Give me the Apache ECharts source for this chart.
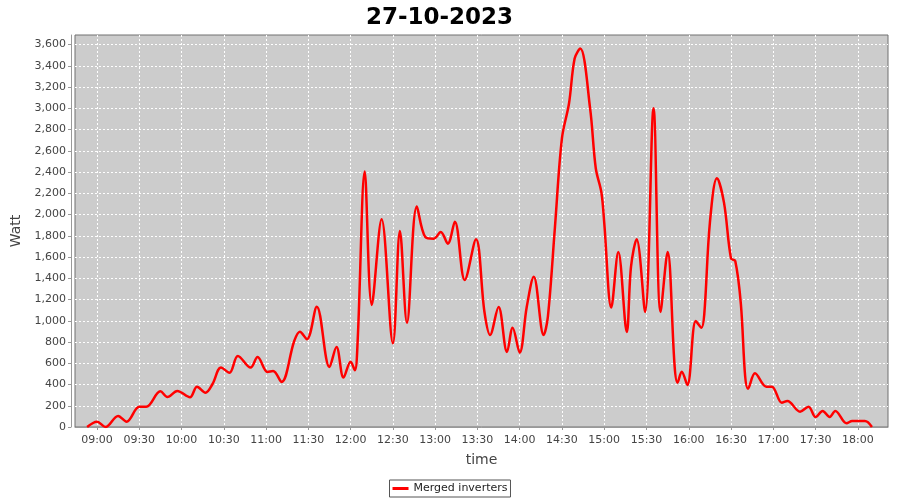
<!DOCTYPE html>
<html>
<head>
<meta charset="utf-8">
<script src="https://cdn.jsdelivr.net/npm/echarts@6/dist/echarts.min.js"></script>
<style>
  html, body { margin: 0; padding: 0; background: #fff; }
  #myChart { width: 900px; height: 500px; }
</style>
</head>
<body>
<div id="myChart"></div>
<script>
// time of each reading (27-10-2023)
const times = ['08:53', '09:00', '09:06', '09:15', '09:21', '09:30', '09:35', '09:45', '09:50', '09:57',
  '10:06', '10:11', '10:17', '10:22', '10:28', '10:34', '10:40', '10:49', '10:54',
  '11:01', '11:05', '11:11', '11:20', '11:24', '11:29', '11:36', '11:45', '11:50', '11:55',
  '12:00', '12:03', '12:05', '12:10', '12:15', '12:22', '12:30', '12:35', '12:40', '12:47', '12:53', '12:59',
  '13:04', '13:09', '13:14', '13:21', '13:29', '13:35', '13:39', '13:45', '13:51', '13:55',
  '14:00', '14:05', '14:10', '14:17', '14:20', '14:25', '14:30', '14:35', '14:39', '14:43', '14:50', '14:54', '14:58',
  '15:00', '15:05', '15:10', '15:16', '15:19', '15:23', '15:29', '15:35', '15:40', '15:45', '15:50', '15:52', '15:55', '15:59',
  '16:05', '16:09', '16:11', '16:15', '16:20', '16:25', '16:30', '16:33', '16:37', '16:40', '16:42', '16:47', '16:55', '16:59',
  '17:06', '17:10', '17:19', '17:25', '17:30', '17:35', '17:40', '17:44', '17:52', '17:56',
  '18:05', '18:10']
// Watt
const watts = [0, 50, 0, 104, 50, 190, 190, 336, 282, 339,
  280, 380, 323, 405, 560, 511, 669, 559, 659,
  518, 527, 424, 810, 897, 826, 1133, 565, 753, 465,
  615, 534, 810, 2404, 1149, 1956, 788, 1846, 982, 2075, 1789, 1773,
  1836, 1726, 1933, 1384, 1767, 1083, 866, 1130, 706, 935,
  700, 1130, 1415, 866, 1036, 1877, 2719, 3045, 3468, 3562, 2997, 2436, 2207,
  1924, 1124, 1648, 895, 1507, 1768, 1083, 3001, 1083, 1648, 565, 417, 521, 396,
  998, 935, 1061, 1924, 2342, 2112, 1585, 1563, 1155, 480, 361, 506, 380, 380,
  229, 245, 144, 191, 94, 151, 94, 151, 35, 56,
  56, 0]

function ts(hhmm, sec) {
  const p = hhmm.split(':')
  return new Date(2023, 9, 27, +p[0], +p[1], sec || 0).getTime()
}
function pad(n) { return (n < 10 ? '0' : '') + n }

const seriesData = times.map((t, i) => [ts(t), watts[i]])

const myChart = echarts.init(document.getElementById('myChart'))
myChart.setOption({
  animation: false,
  backgroundColor: '#ffffff',
  title: {
    text: '27-10-2023',
    left: 361,
    top: 2,
    textStyle: { fontFamily: 'DejaVu Sans', fontSize: 23, fontWeight: 'bold', color: '#000' }
  },
  legend: {
    bottom: 3,
    left: 'center',
    data: ['Merged inverters'],
    icon: 'rect',
    itemWidth: 16,
    itemHeight: 3,
    itemGap: 4,
    padding: [3, 3, 3, 3],
    borderColor: '#555',
    borderWidth: 1,
    borderRadius: 0,
    textStyle: { fontFamily: 'DejaVu Sans', fontSize: 11, color: '#222' }
  },
  grid: {
    left: 75,
    right: 12,
    top: 35,
    bottom: 73,
    show: true,
    backgroundColor: '#cccccc',
    borderColor: '#707070',
    borderWidth: 1
  },
  xAxis: {
    type: 'time',
    min: ts('08:44', 24),
    max: ts('18:21', 24),
    splitNumber: 19,
    offset: 3,
    name: 'time',
    nameLocation: 'middle',
    nameGap: 23,
    nameTextStyle: { fontFamily: 'DejaVu Sans', fontSize: 14, color: '#444' },
    axisLine: { show: true, lineStyle: { color: '#999' } },
    axisTick: { show: true, length: 3, lineStyle: { color: '#999' } },
    axisLabel: {
      fontFamily: 'DejaVu Sans', fontSize: 11, color: '#444', margin: 5,
      showMinLabel: false, showMaxLabel: false,
      formatter: function (v) {
        const d = new Date(v)
        return pad(d.getHours()) + ':' + pad(d.getMinutes())
      }
    },
    splitLine: { show: true, showMinLine: false, showMaxLine: false, lineStyle: { color: '#ffffff', type: [2, 2], width: 1 } }
  },
  yAxis: {
    type: 'value',
    min: 0,
    max: 3690,
    interval: 200,
    offset: 4,
    name: 'Watt',
    nameLocation: 'middle',
    nameGap: 43,
    nameTextStyle: { fontFamily: 'DejaVu Sans', fontSize: 14, color: '#444' },
    axisLine: { show: true, lineStyle: { color: '#999' } },
    axisTick: { show: true, length: 3, lineStyle: { color: '#999' } },
    axisLabel: {
      fontFamily: 'DejaVu Sans', fontSize: 11, color: '#444', margin: 5,
      showMaxLabel: false,
      formatter: function (v) { return v.toLocaleString('en-US') }
    },
    splitLine: { show: true, showMinLine: false, showMaxLine: false, lineStyle: { color: '#ffffff', type: [2, 2], width: 1 } }
  },
  series: [
    {
      name: 'Merged inverters',
      type: 'line',
      data: seriesData,
      smooth: 0.35,
      showSymbol: false,
      color: '#ff0000',
      lineStyle: { color: '#ff0000', width: 2.5 }
    }
  ]
})
</script>
</body>
</html>
